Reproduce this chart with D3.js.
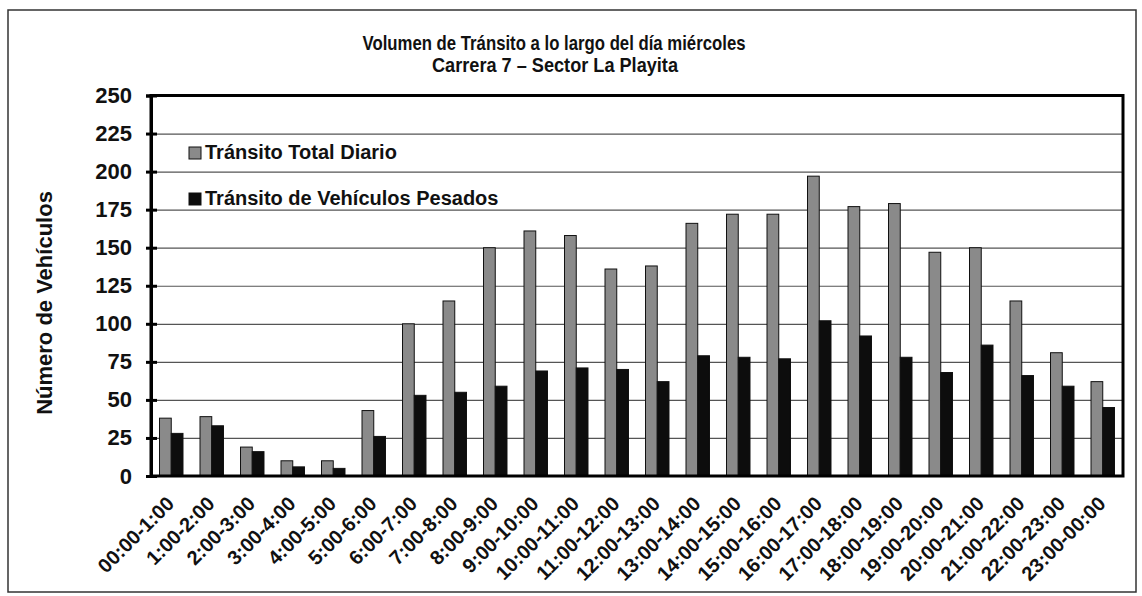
<!DOCTYPE html>
<meta charset="utf-8">
<script src="https://d3js.org/d3.v7.min.js"></script>
<style>
  body { margin: 0; background: #fff; }
  text { font-family: Arial, "Liberation Sans", sans-serif; font-weight: bold; fill: #111; }
</style>
<div id="chart"></div>
<script>

// data
var horas = ["00:00-1:00","1:00-2:00","2:00-3:00","3:00-4:00","4:00-5:00","5:00-6:00",
  "6:00-7:00","7:00-8:00","8:00-9:00","9:00-10:00","10:00-11:00","11:00-12:00",
  "12:00-13:00","13:00-14:00","14:00-15:00","15:00-16:00","16:00-17:00","17:00-18:00",
  "18:00-19:00","19:00-20:00","20:00-21:00","21:00-22:00","22:00-23:00","23:00-00:00"];
var totalDiario = [38,39,19,10,10,43,100,115,150,161,158,136,138,166,172,172,197,177,179,147,150,115,81,62];
var pesados     = [28,33,16,6,5,26,53,55,59,69,71,70,62,79,78,77,102,92,78,68,86,66,59,45];
var yTicks = [0,25,50,75,100,125,150,175,200,225,250];
var series = ["Tránsito Total Diario", "Tránsito de Vehículos Pesados"];

var W = 1142, H = 596;
var margin = {top: 95.5, right: 19, bottom: 120, left: 151},
    width = 1123 - margin.left,
    height = 476 - margin.top;

var svg = d3.select("#chart").append("svg")
    .attr("width", W).attr("height", H);

// outer frame
svg.append("rect")
    .attr("x", 8).attr("y", 10).attr("width", 1128).attr("height", 582)
    .attr("fill", "none").attr("stroke", "#333").attr("stroke-width", 1.5);

// title
svg.append("text").attr("x", 554).attr("y", 50)
    .attr("text-anchor", "middle").style("font-size", "21px")
    .attr("textLength", 383).attr("lengthAdjust", "spacingAndGlyphs")
    .text("Volumen de Tránsito a lo largo del día miércoles");
svg.append("text").attr("x", 555).attr("y", 72)
    .attr("text-anchor", "middle").style("font-size", "21px")
    .attr("textLength", 246).attr("lengthAdjust", "spacingAndGlyphs")
    .text("Carrera 7 – Sector La Playita");

var g = svg.append("g")
    .attr("transform", "translate(" + margin.left + "," + margin.top + ")");

var x = d3.scaleBand().domain(horas).range([0, width])
    .paddingInner(0.42).paddingOuter(0.21);
var xs = d3.scaleBand().domain(series).range([0, x.bandwidth()]);
var y = d3.scaleLinear().domain([0, 250]).range([height, 0]);

// gridlines
g.append("g")
    .call(d3.axisLeft(y).tickValues(yTicks.slice(1, -1)).tickSize(-width).tickFormat(""))
    .call(function(s) { s.select(".domain").remove(); })
    .selectAll("line").attr("stroke", "#555").attr("stroke-width", 1.2);

// bars
var colors = ["#8a8a8a", "#0d0d0d"];
var vals = [totalDiario, pesados];
series.forEach(function(sname, k) {
  g.selectAll(".bar" + k)
    .data(horas)
    .enter().append("rect")
      .attr("x", function(d) { return x(d) + xs(sname); })
      .attr("y", function(d, i) { return y(vals[k][i]); })
      .attr("width", xs.bandwidth())
      .attr("height", function(d, i) { return height - y(vals[k][i]); })
      .attr("fill", colors[k])
      .attr("stroke", "#111").attr("stroke-width", 1);
});

// plot border
g.append("rect").attr("width", width).attr("height", height)
    .attr("fill", "none").attr("stroke", "#000").attr("stroke-width", 3);

// y axis
var yAxis = g.append("g")
    .call(d3.axisLeft(y).tickValues(yTicks).tickSize(5).tickPadding(14));
yAxis.select(".domain").attr("stroke", "#000").attr("stroke-width", 3);
yAxis.selectAll("line").attr("x1", 6).attr("x2", -5).attr("stroke", "#000").attr("stroke-width", 3);
yAxis.selectAll("text").style("font-size", "22px").style("font-family", "Arial, 'Liberation Sans', sans-serif").attr("fill", "#111");

// x axis labels
var xAxis = g.append("g")
    .attr("transform", "translate(0," + height + ")")
    .call(d3.axisBottom(x).tickSize(0).tickPadding(0));
xAxis.select(".domain").remove();
xAxis.selectAll("text")
    .attr("y", 0).attr("dy", 0)
    .attr("transform", "translate(4,29) rotate(-45)")
    .style("text-anchor", "end")
    .style("font-size", "20px")
    .style("font-family", "Arial, 'Liberation Sans', sans-serif")
    .attr("fill", "#111");

// y title
svg.append("text")
    .attr("transform", "translate(52,303) rotate(-90)")
    .attr("text-anchor", "middle").style("font-size", "22px")
    .text("Número de Vehículos");

// legend
var legend = svg.append("g");
series.forEach(function(sname, k) {
  var ly = 159 + k * 46;
  legend.append("rect").attr("x", 189).attr("y", ly - 12).attr("width", 12).attr("height", 12)
      .attr("fill", colors[k]).attr("stroke", "#111").attr("stroke-width", 1);
  legend.append("text").attr("x", 205).attr("y", ly)
      .style("font-size", "20px").text(sname);
});

</script>
